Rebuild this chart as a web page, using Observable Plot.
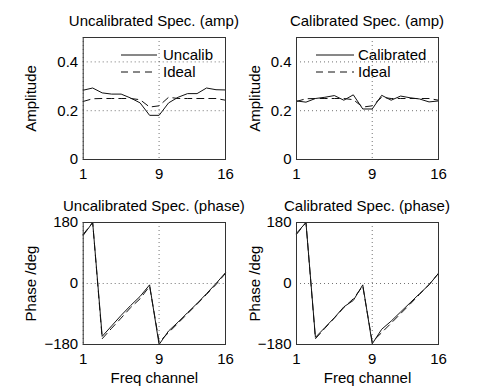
<!DOCTYPE html>
<html>
<head>
<meta charset="utf-8">
<script src="https://cdn.jsdelivr.net/npm/d3@7"></script>
<script src="https://cdn.jsdelivr.net/npm/@observablehq/plot@0.6"></script>
<style>
  body { margin: 0; background: #fff; }
  #wrap { position: relative; width: 485px; height: 388px; font-family: "Liberation Sans", Arial, sans-serif; }
  #wrap svg { position: absolute; left: 0; top: 0; }
</style>
</head>
<body>
<div id="wrap"></div>
<script>
// ---- data ----
const channels = [1, 2, 3, 4, 5, 6, 7, 8, 9, 10, 11, 12, 13, 14, 15, 16];
const xTicks = [1, 9, 16];
const ampTicks = [0, 0.2, 0.4];
const phaseTicks = [-180, 0, 180];

const ampUncalib = [0.284, 0.293, 0.273, 0.268, 0.268, 0.252, 0.232, 0.181, 0.181, 0.232, 0.255, 0.270, 0.270, 0.293, 0.286, 0.285];
const ampCalib   = [0.240, 0.235, 0.250, 0.255, 0.262, 0.243, 0.265, 0.207, 0.207, 0.263, 0.243, 0.260, 0.253, 0.248, 0.236, 0.240];
const ampIdeal   = [0.238, 0.249, 0.250, 0.250, 0.250, 0.250, 0.245, 0.215, 0.220, 0.255, 0.250, 0.250, 0.250, 0.250, 0.250, 0.243];

const phaseUncalib = [142, 180, -156, -125, -94, -65, -38, -4, -180, -140, -114, -86, -59, -30, 0, 32];
const phaseCalib   = [148, 180, -159, -130, -101, -69, -50, -4, -178, -135, -111, -84, -57, -30, -4, 30];
const phaseIdeal   = [145, 180, -163, -132, -102, -71, -45, -8, -172, -145, -117, -89, -61, -32, -3, 30];

const titles = ["Uncalibrated Spec. (amp)", "Calibrated Spec. (amp)", "Uncalibrated Spec. (phase)", "Calibrated Spec. (phase)"];
const legendNames = [["Uncalib", "Ideal"], ["Calibrated", "Ideal"]];
const ampLabel = "Amplitude";
const phaseLabel = "Phase /deg";
const xLabel = "Freq channel";

// ---- layout ----
const W = 485, H = 388;
const FONT = '"Liberation Sans", Arial, sans-serif';
const cols = [[82.7, 225], [296, 438]];
const rows = [[37, 159], [222, 344]];

const fmt = d => d < 0 ? "\u2212" + Math.abs(d) : String(d);
const rowsOf = vals => channels.map((c, i) => ({c, v: vals[i]}));

function panel({col, row, yDomain, yTicks, yLabel, yLabelOffset, showX, solid, ideal}) {
  const [x0, x1] = cols[col];
  const [y0, y1] = rows[row];
  return Plot.plot({
    width: W, height: H,
    marginLeft: x0, marginRight: W - x1, marginTop: y0, marginBottom: H - y1,
    style: {fontFamily: FONT, fontSize: "15px", color: "#000", background: "transparent", overflow: "visible"},
    x: {domain: [1, 16], ticks: xTicks, tickSize: 0, tickPadding: 9, tickFormat: fmt,
        label: showX ? xLabel : null, labelAnchor: "center", labelArrow: "none", labelOffset: 38},
    y: {domain: yDomain, ticks: yTicks, tickSize: 0, tickPadding: 5, tickFormat: fmt,
        label: yLabel, labelAnchor: "center", labelArrow: "none", labelOffset: yLabelOffset},
    marks: [
      Plot.gridX(xTicks, {stroke: "#000", strokeOpacity: 0.55, strokeDasharray: "1,3"}),
      Plot.gridY(yTicks, {stroke: "#000", strokeOpacity: 0.55, strokeDasharray: "1,3"}),
      Plot.line(rowsOf(ideal), {x: "c", y: "v", stroke: "#111", strokeWidth: 1, strokeDasharray: "7,5"}),
      Plot.line(rowsOf(solid), {x: "c", y: "v", stroke: "#111", strokeWidth: 1}),
      Plot.frame({stroke: "#333", strokeWidth: 1})
    ]
  });
}

const wrap = document.getElementById("wrap");
wrap.appendChild(panel({col: 0, row: 0, yDomain: [0, 0.5], yTicks: ampTicks, yLabel: ampLabel, yLabelOffset: 58, showX: false, solid: ampUncalib, ideal: ampIdeal}));
wrap.appendChild(panel({col: 1, row: 0, yDomain: [0, 0.5], yTicks: ampTicks, yLabel: ampLabel, yLabelOffset: 47, showX: false, solid: ampCalib, ideal: ampIdeal}));
wrap.appendChild(panel({col: 0, row: 1, yDomain: [-180, 180], yTicks: phaseTicks, yLabel: phaseLabel, yLabelOffset: 58, showX: true, solid: phaseUncalib, ideal: phaseIdeal}));
wrap.appendChild(panel({col: 1, row: 1, yDomain: [-180, 180], yTicks: phaseTicks, yLabel: phaseLabel, yLabelOffset: 47, showX: true, solid: phaseCalib, ideal: phaseIdeal}));

// ---- titles and legends (overlay) ----
const svg = d3.create("svg").attr("width", W).attr("height", H)
  .style("font-family", FONT).style("font-size", "15px");
titles.forEach((t, i) => {
  const [x0, x1] = cols[i % 2];
  const [y0] = rows[Math.floor(i / 2)];
  svg.append("text").attr("x", (x0 + x1) / 2).attr("y", y0 - 11)
    .attr("text-anchor", "middle").attr("fill", "#000").text(t);
});
const legendPos = [{lx0: 121, lx1: 157, tx: 163}, {lx0: 316, lx1: 354, tx: 358}];
legendPos.forEach((p, i) => {
  [55, 72].forEach((yy, j) => {
    svg.append("line").attr("x1", p.lx0).attr("x2", p.lx1).attr("y1", yy).attr("y2", yy)
      .attr("stroke", "#111").attr("stroke-width", 1)
      .attr("stroke-dasharray", j === 1 ? "7,5" : null);
    svg.append("text").attr("x", p.tx).attr("y", yy + 5.4).attr("fill", "#000").text(legendNames[i][j]);
  });
});
wrap.appendChild(svg.node());
</script>
</body>
</html>
